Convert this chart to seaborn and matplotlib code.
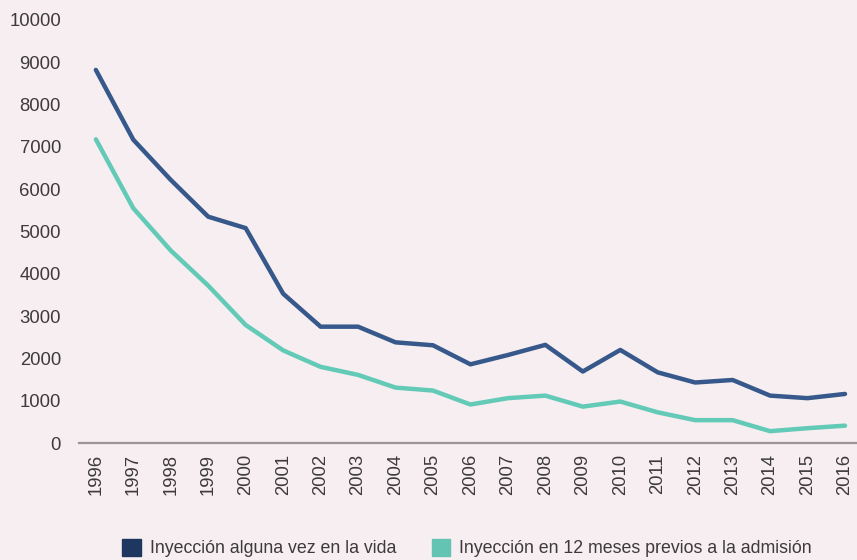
import pandas as pd
import seaborn as sns
import matplotlib.pyplot as plt
from matplotlib.patches import Patch

#data
years = [1996, 1997, 1998, 1999, 2000, 2001, 2002, 2003, 2004, 2005, 2006,
         2007, 2008, 2009, 2010, 2011, 2012, 2013, 2014, 2015, 2016]
alguna_vez = [8820, 7170, 6220, 5350, 5080, 3530, 2750, 2750, 2380, 2310, 1860,
              2080, 2320, 1690, 2200, 1670, 1430, 1490, 1120, 1060, 1160]
doce_meses = [7180, 5550, 4550, 3720, 2790, 2190, 1800, 1610, 1310, 1240, 910,
              1060, 1120, 860, 980, 725, 540, 540, 280, 350, 410]
series_names = ['Inyección alguna vez en la vida',
                'Inyección en 12 meses previos a la admisión']

df = pd.DataFrame({'Año': [str(y) for y in years] * 2,
                   'valor': alguna_vez + doce_meses,
                   'serie': [series_names[0]] * len(years) + [series_names[1]] * len(years)})

bg = '#f6eef0'
line_colors = ['#36588a', '#62cab6']
patch_colors = ['#1d3761', '#64c4b4']

sns.set_style('white')
plt.rcParams['font.family'] = ['Liberation Sans', 'DejaVu Sans']

fig = plt.figure(figsize=(8.57, 5.6), dpi=100, facecolor=bg)
ax = fig.add_axes([79 / 857, 1 - 443 / 560, 1 - 79 / 857, (443 - 20) / 560])
ax.set_facecolor(bg)

sns.lineplot(data=df, x='Año', y='valor', hue='serie', palette=line_colors,
             linewidth=3.2, sort=False, legend=False, ax=ax)

ax.set_ylim(0, 10000)
ax.set_xlim(-0.45, 20.32)
ax.set_yticks(range(0, 10001, 1000))
ax.set_xlabel('')
ax.set_ylabel('')
for s in ['top', 'right', 'left']:
    ax.spines[s].set_visible(False)
ax.spines['bottom'].set_color('#9a9596')
ax.spines['bottom'].set_linewidth(1.6)
ax.tick_params(axis='both', length=0, labelsize=13.3, colors='#3d3a3b')
ax.tick_params(axis='y', pad=13)
ax.tick_params(axis='x', pad=8)
plt.setp(ax.get_xticklabels(), rotation=90)

handles = [Patch(color=c) for c in patch_colors]
fig.legend(handles, series_names, loc='lower left', bbox_to_anchor=(0.124, -0.024),
           ncol=2, frameon=False, fontsize=12.8, handlelength=1.05, handleheight=1.05,
           handletextpad=0.5, columnspacing=2.0, labelcolor='#3d3a3b')

fig.savefig('out.png', dpi=100, facecolor=bg)
